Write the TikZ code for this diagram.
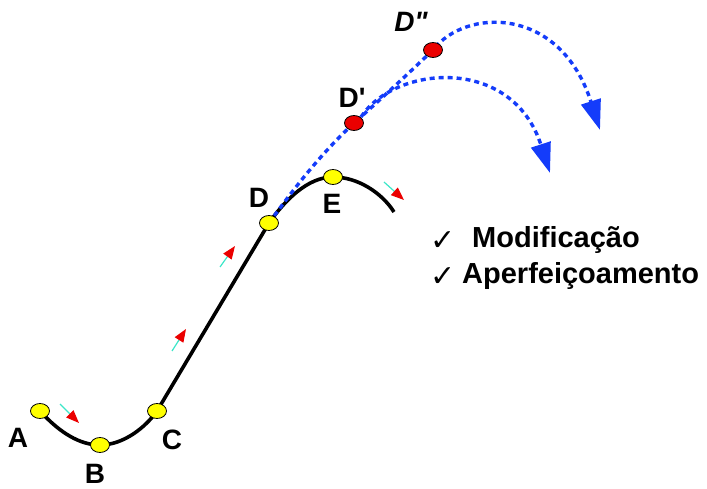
\documentclass[tikz,border=0pt]{standalone}
\usepackage{fontspec}
\usepackage{tikz}
\usetikzlibrary{arrows.meta,calc}
\newfontfamily\labfont{Liberation Sans}
\newfontfamily\symfont{DejaVu Sans}
\definecolor{TRBlue}{RGB}{20,60,250}
\definecolor{TRYellow}{RGB}{255,255,0}
\definecolor{TRRed}{RGB}{235,0,0}
\definecolor{TRCyan}{RGB}{60,230,200}
\tikzset{
  track/.style={black, line width=3.6pt},
  jump/.style={TRBlue, line width=3.4pt, dash pattern=on 5pt off 4pt,
    -{Triangle[length=30pt,width=20pt]}},
  stop/.style={ellipse, draw=black, line width=0.8pt, fill=TRYellow,
    minimum width=19pt, minimum height=15pt, inner sep=0pt},
  newstop/.style={stop, fill=TRRed},
  tag/.style={inner sep=0pt, font=\labfont\bfseries\fontsize{28}{32}\selectfont},
  item/.style={font=\labfont\bfseries\fontsize{29}{34}\selectfont},
  tick/.style={anchor=west, inner sep=0pt, font=\symfont\fontsize{30}{34}\selectfont},
  push/.style={TRCyan, line width=1.2pt,
    -{Triangle[color=TRRed,length=13pt,width=10pt]}},
}
\usepgflibrary{shapes.geometric}
\begin{document}
\begin{tikzpicture}[x=1pt,y=-1pt]
  \useasboundingbox (0,0) rectangle (707,489);
  % points of the path
  \coordinate (a) at (40,411);
  \coordinate (b) at (100,445);
  \coordinate (c) at (157,411);
  \coordinate (d) at (269,223);
  \coordinate (e) at (333,177);
  \coordinate (f) at (394,212);
  \coordinate (d1) at (354,123);
  \coordinate (d2) at (433,50);
  \coordinate (s1) at (361,117);
  \coordinate (t1) at (550,173);
  \coordinate (t2) at (600,130);

  % the path itself
  \draw[track] (a) .. controls (60,433) and (80,445) .. (b)
    .. controls (123,445) and (145,428) .. (c) -- (d)
    .. controls (285,200) and (308,177) .. (e)
    .. controls (358,177) and (382,193) .. (f);

  % new trajectories
  \draw[jump] (d) .. controls (300,180) and (325,150) .. (d1)
    .. controls (380,100) and (410,72) .. (d2)
    .. controls (465,8) and (560,5) .. (t2);
  \draw[jump] (s1) .. controls (395,65) and (512,55) .. (t1);

  % direction hints
  \coordinate (p1) at (60,404);  \coordinate (q1) at (79,423);
  \coordinate (p2) at (172,351); \coordinate (q2) at (186,329);
  \coordinate (p3) at (220,267); \coordinate (q3) at (235,246);
  \coordinate (p4) at (384,182); \coordinate (q4) at (404,200);
  \foreach \i in {1,...,4}
    \draw[push] (p\i) -- (q\i);

  % stops
  \node[stop] (A) at (a) {};
  \node[stop] (B) at (b) {};
  \node[stop] (C) at (c) {};
  \node[stop] (D) at (d) {};
  \node[stop] (E) at (e) {};
  \node[newstop] (D1) at (d1) {};
  \node[newstop] (D2) at (d2) {};

  % labels
  \node[tag] (labA) at (18,438) {A};
  \node[tag] (labB) at (95,474) {B};
  \node[tag] (labC) at (172,440) {C};
  \node[tag] (labD) at (259,198) {D};
  \node[tag] (labE) at (332,204) {E};
  \node[tag] (labD1) at (352,98) {D'};
  \node[tag, font=\labfont\bfseries\itshape\fontsize{28}{32}\selectfont] (labD2) at (411,22) {D"};

  % list
  \node[tick] (chk1) at (430,241) {✓};
  \node[tick] (chk2) at (430,277) {✓};
  \node[anchor=west, item, inner sep=0pt] (item1) at (472,240) {Modificação};
  \node[anchor=west, item, inner sep=0pt] (item2) at (462,276) {Aperfeiçoamento};
\end{tikzpicture}
\end{document}
